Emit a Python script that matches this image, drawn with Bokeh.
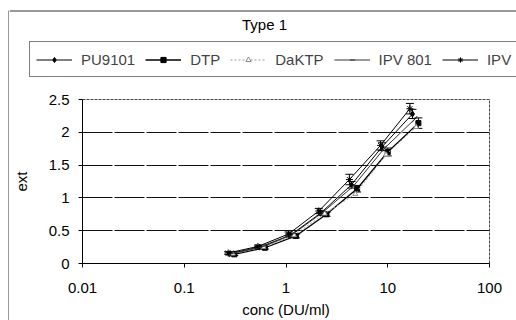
from bokeh.plotting import figure
from bokeh.layouts import row, column
from bokeh.models import (Legend, LegendItem, FixedTicker, CustomJSTickFormatter,
                          ColumnDataSource, Whisker, Label)
from bokeh.embed import file_html
from bokeh.resources import INLINE

# ---- data ----
series_names = ["PU9101", "DTP", "DaKTP", "IPV 801", "IPV"]

pu_conc = [0.28, 0.55, 1.1, 2.2, 4.4, 8.8, 17.5]
pu_ext = [0.15, 0.25, 0.43, 0.77, 1.20, 1.78, 2.28]
pu_err = [0.02, 0.02, 0.03, 0.04, 0.05, 0.06, 0.07]

dtp_conc = [0.31, 0.62, 1.25, 2.5, 5.0, 10.0, 20.0]
dtp_ext = [0.14, 0.24, 0.42, 0.75, 1.14, 1.70, 2.14]
dtp_err = [0.02, 0.02, 0.03, 0.03, 0.05, 0.06, 0.08]

daktp_conc = [0.30, 0.60, 1.2, 2.4, 4.8, 9.6, 19.0]
daktp_ext = [0.15, 0.25, 0.43, 0.76, 1.06, 1.66, 2.08]

ipv801_conc = [0.29, 0.58, 1.15, 2.3, 4.6, 9.2, 18.4]
ipv801_ext = [0.15, 0.25, 0.44, 0.78, 1.18, 1.75, 2.20]

ipv_conc = [0.27, 0.53, 1.06, 2.1, 4.2, 8.5, 16.5]
ipv_ext = [0.16, 0.26, 0.45, 0.80, 1.28, 1.80, 2.36]
ipv_err = [0.02, 0.02, 0.03, 0.04, 0.08, 0.07, 0.08]

x_ticks = [0.01, 0.1, 1, 10, 100]
y_ticks = [0, 0.5, 1, 1.5, 2, 2.5]
y_labels = {0: "0", 0.5: "0.5", 1: "1", 1.5: "1.5", 2: "2", 2.5: "2.5"}

chart_title = "Type 1"
FONT = "Liberation Sans"
FS = "15px"


def bare(fig):
    fig.background_fill_color = "white"
    fig.border_fill_color = "white"
    fig.outline_line_color = None
    fig.xgrid.visible = False
    fig.ygrid.visible = False
    fig.frame_align = False


# ---- left strip carrying the outer box's left edge ----
strip = figure(width=9, height=320, x_range=(0, 9), y_range=(320, 0),
               output_backend="svg", toolbar_location=None, min_border=0,
               x_axis_location=None, y_axis_location=None)
bare(strip)
strip.segment(x0=[8.5], y0=[10], x1=[8.5], y1=[320], line_color="#333333", line_width=1)

# ---- top area: title + legend ----
top = figure(width=507, height=82, x_range=(9, 516), y_range=(82, 0),
             output_backend="svg", toolbar_location=None, min_border=0,
             x_axis_location=None, y_axis_location=None)
bare(top)
top.segment(x0=[9], y0=[10.5], x1=[516], y1=[10.5], line_color="#333333", line_width=1)
top.add_layout(Label(x=264, y=24, text=chart_title, text_font=FONT, text_font_size=FS,
                     text_align="center", text_baseline="middle", text_color="black"))

# ---- main chart ----
p = figure(width=507, height=238, x_axis_type="log", x_range=(0.01, 100),
           y_range=(0, 2.5), output_backend="svg", toolbar_location=None,
           min_border_left=72, min_border_right=27, min_border_top=17,
           min_border_bottom=57)
p.frame_align = False
p.background_fill_color = "white"
p.border_fill_color = "white"
p.outline_line_color = "#444444"
p.outline_line_dash = "3 1"

p.xaxis.ticker = FixedTicker(ticks=x_ticks)
p.xaxis.formatter = CustomJSTickFormatter(code="return tick.toString();")
p.yaxis.ticker = FixedTicker(ticks=y_ticks)
p.yaxis.major_label_overrides = y_labels
for ax in (p.xaxis, p.yaxis):
    ax.axis_line_color = "black"
    ax.major_tick_line_color = "black"
    ax.minor_tick_line_color = None
    ax.major_tick_in = 0
    ax.major_tick_out = 4
    ax.major_label_text_font = FONT
    ax.major_label_text_font_size = FS
    ax.major_label_text_color = "black"
    ax.axis_label_text_font = FONT
    ax.axis_label_text_font_size = FS
    ax.axis_label_text_font_style = "normal"
    ax.axis_label_text_color = "black"
p.xaxis.axis_label = "conc (DU/ml)"
p.yaxis.axis_label = "ext"
p.xaxis.major_label_standoff = 15
p.xaxis.axis_label_standoff = 5
p.yaxis.major_label_standoff = 9
p.yaxis.axis_label_standoff = 16

p.xgrid.grid_line_color = None
p.ygrid.ticker = FixedTicker(ticks=y_ticks)
p.ygrid.grid_line_color = "#111111"
p.ygrid.grid_line_width = 1
p.ygrid.grid_line_dash = "30 2"

styles = [
    dict(line=dict(line_color="black", line_width=1),
         mark=dict(marker="diamond", size=6, line_color="black", fill_color="black")),
    dict(line=dict(line_color="black", line_width=1.3),
         mark=dict(marker="square", size=5, line_color="black", fill_color="black")),
    dict(line=dict(line_color="#9a9a9a", line_width=1, line_dash="2 2"),
         mark=dict(marker="triangle", size=5, line_color="#8a8a8a", fill_color="white")),
    dict(line=dict(line_color="#333333", line_width=1),
         mark=dict(marker="dash", size=8, angle=0.9, line_color="#333333")),
    dict(line=dict(line_color="black", line_width=1),
         mark=dict(marker="asterisk", size=7, line_color="black")),
]
series = [(pu_conc, pu_ext), (dtp_conc, dtp_ext), (daktp_conc, daktp_ext),
          (ipv801_conc, ipv801_ext), (ipv_conc, ipv_ext)]

for (xs, ys), st in zip(series, styles):
    p.line(xs, ys, **st["line"])
    p.scatter(xs, ys, **st["mark"])

for xs, ys, es in ((pu_conc, pu_ext, pu_err), (dtp_conc, dtp_ext, dtp_err),
                   (ipv_conc, ipv_ext, ipv_err)):
    src = ColumnDataSource(dict(x=xs, lo=[y - e for y, e in zip(ys, es)],
                                hi=[y + e for y, e in zip(ys, es)]))
    w = Whisker(source=src, base="x", lower="lo", upper="hi", dimension="height",
                line_color="black", line_width=1)
    w.upper_head.size = 8
    w.lower_head.size = 8
    w.upper_head.line_color = "black"
    w.lower_head.line_color = "black"
    p.add_layout(w)

# legend (hidden copies of the series in the top area carry the legend samples)
items = []
for name, (xs, ys), st in zip(series_names, series, styles):
    rl = top.line(xs, ys, visible=False, **st["line"])
    rm = top.scatter(xs, ys, visible=False, **st["mark"])
    items.append(LegendItem(label=name, renderers=[rl, rm]))
legend = Legend(items=items, orientation="horizontal", location=(20, 5),
                label_text_font=FONT, label_text_font_size=FS,
                glyph_width=36, glyph_height=13, label_height=22,
                label_standoff=9, spacing=10, padding=6, margin=0,
                border_line_color="black", border_line_width=1,
                background_fill_color="white", background_fill_alpha=1,
                inactive_fill_alpha=0)
top.add_layout(legend, "center")

layout = row(strip, column(top, p))
open("out.html", "w").write(file_html(layout, INLINE))
